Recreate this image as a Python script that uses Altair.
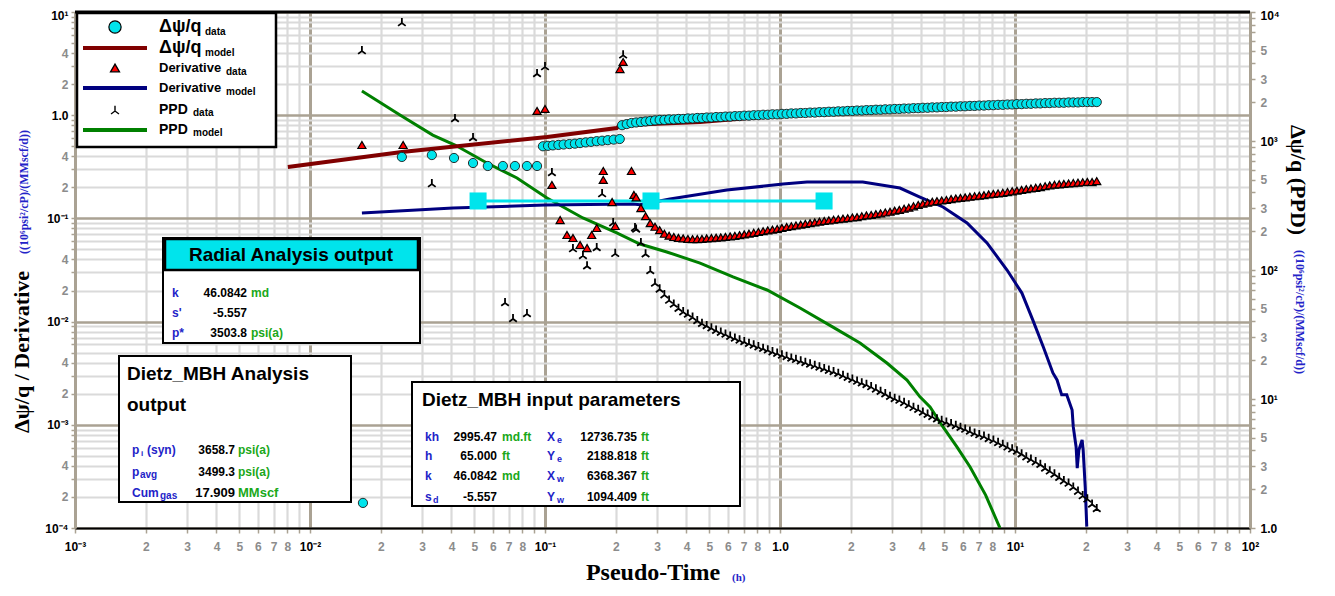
import altair as alt
import pandas as pd

# ---------------- data ----------------
# early, scattered part of each data series (pseudo-time h, value)
psi_early = [
    (0.0168, 0.000175), (0.0246, 0.394), (0.0330, 0.411), (0.0410, 0.385), (0.0494, 0.344),
    (0.0571, 0.322), (0.0662, 0.322), (0.0745, 0.322), (0.0838, 0.322), (0.0925, 0.322),
    (0.098, 0.50), (0.103, 0.505), (0.108, 0.51), (0.114, 0.515), (0.120, 0.52), (0.127, 0.525),
    (0.134, 0.53), (0.141, 0.537), (0.149, 0.545), (0.157, 0.552), (0.166, 0.56), (0.175, 0.566),
    (0.185, 0.573), (0.196, 0.58), (0.208, 0.588),
]
deriv_early = [
    (0.01663, 0.514), (0.0249, 0.514), (0.0925, 1.10), (0.1, 1.15), (0.107, 0.211),
    (0.116, 0.0964), (0.124, 0.069), (0.1315, 0.0646), (0.141, 0.0552), (0.151, 0.0516),
    (0.158, 0.069), (0.166, 0.0807), (0.177, 0.288), (0.177, 0.236), (0.193, 0.144),
    (0.199, 0.0844), (0.2085, 2.80), (0.215, 3.28), (0.239, 0.169),
]
ppd_early = [
    (0.01663, 5070), (0.0246, 8360), (0.033, 472), (0.0414, 1510), (0.0494, 1075),
    (0.0676, 56.5), (0.0731, 42.5), (0.0838, 46.4), (0.0925, 3370), (0.1, 3810),
    (0.107, 575), (0.1315, 148), (0.145, 131), (0.151, 109), (0.166, 151), (0.175, 395),
    (0.195, 235), (0.199, 136), (0.215, 4700), (0.2415, 215),
]

# dense part: common pseudo-times of the three data series
t_dense = [
    0.2128, 0.2228, 0.2333, 0.2443, 0.2559, 0.2679, 0.2805, 0.2938, 0.3076, 0.3221,
    0.3373, 0.3532, 0.3698, 0.3873, 0.4055, 0.4246, 0.4446, 0.4656, 0.4875, 0.5105,
    0.5346, 0.5598, 0.5861, 0.6138, 0.6427, 0.6730, 0.7047, 0.7379, 0.7727, 0.8091,
    0.8472, 0.8872, 0.9290, 0.9727, 1.019, 1.067, 1.117, 1.169, 1.225, 1.282,
    1.343, 1.406, 1.472, 1.542, 1.614, 1.690, 1.770, 1.854, 1.941, 2.032,
    2.128, 2.228, 2.333, 2.443, 2.559, 2.679, 2.805, 2.938, 3.076, 3.221,
    3.373, 3.532, 3.698, 3.873, 4.055, 4.246, 4.446, 4.656, 4.875, 5.105,
    5.346, 5.598, 5.861, 6.138, 6.427, 6.730, 7.047, 7.379, 7.727, 8.091,
    8.472, 8.872, 9.290, 9.727, 10.19, 10.67, 11.17, 11.69, 12.25, 12.82,
    13.43, 14.06, 14.72, 15.42, 16.14, 16.90, 17.70, 18.54, 19.41, 20.32,
    21.28, 22.28,
]
psi_dense = [
    0.80, 0.82, 0.84, 0.85, 0.86, 0.87, 0.88, 0.89, 0.90, 0.90,
    0.91, 0.91, 0.92, 0.92, 0.93, 0.93, 0.94, 0.94, 0.95, 0.95,
    0.96, 0.96, 0.97, 0.97, 0.98, 0.98, 0.99, 0.99, 1.00, 1.00,
    1.01, 1.01, 1.02, 1.02, 1.03, 1.03, 1.04, 1.04, 1.05, 1.05,
    1.06, 1.06, 1.07, 1.07, 1.08, 1.08, 1.09, 1.09, 1.10, 1.10,
    1.11, 1.11, 1.12, 1.12, 1.13, 1.13, 1.14, 1.14, 1.15, 1.15,
    1.16, 1.16, 1.17, 1.17, 1.18, 1.18, 1.19, 1.19, 1.20, 1.20,
    1.21, 1.21, 1.22, 1.22, 1.23, 1.23, 1.24, 1.24, 1.25, 1.25,
    1.26, 1.26, 1.27, 1.27, 1.28, 1.28, 1.29, 1.29, 1.30, 1.30,
    1.31, 1.31, 1.32, 1.32, 1.32, 1.33, 1.33, 1.33, 1.34, 1.34,
    1.34, 1.34,
]
deriv_dense = [
    None, None, 0.288, 0.160, 0.126, 0.105, 0.090, 0.083, 0.077, 0.071,
    0.068, 0.066, 0.0648, 0.0640, 0.0632, 0.0630, 0.0631, 0.0633, 0.0640, 0.0645,
    0.0650, 0.0655, 0.0662, 0.0670, 0.0678, 0.0688, 0.0700, 0.0712, 0.0725, 0.0738,
    0.0752, 0.0765, 0.0778, 0.0790, 0.0810, 0.0825, 0.0840, 0.0855, 0.0870, 0.0885,
    0.0900, 0.0915, 0.0930, 0.0945, 0.0958, 0.0970, 0.0982, 0.0995, 0.1005, 0.102,
    0.103, 0.105, 0.107, 0.108, 0.110, 0.112, 0.114, 0.116, 0.119, 0.121,
    0.124, 0.127, 0.131, 0.135, 0.139, 0.142, 0.145, 0.147, 0.149, 0.151,
    0.154, 0.156, 0.158, 0.160, 0.162, 0.164, 0.166, 0.168, 0.171, 0.173,
    0.175, 0.177, 0.180, 0.183, 0.186, 0.189, 0.192, 0.195, 0.198, 0.201,
    0.205, 0.209, 0.212, 0.214, 0.216, 0.218, 0.220, 0.222, 0.224, 0.226,
    0.225, 0.230,
]
ppd_dense = [
    None, None, None, 210, 165, 135, 100, 80, 72, 65,
    59, 55, 51, 48, 46, 43.5, 41, 39, 37.5, 36,
    34.5, 33.3, 32.2, 31.0, 30.0, 29.0, 28.2, 27.3, 26.5, 25.7,
    25.0, 24.3, 23.5, 22.9, 22.2, 21.6, 21.0, 20.5, 20.0, 19.4,
    18.9, 18.4, 17.9, 17.4, 16.9, 16.5, 16.0, 15.4, 14.9, 14.4,
    13.9, 13.5, 13.1, 12.6, 12.1, 11.6, 11.1, 10.6, 10.2, 9.9,
    9.5, 9.1, 8.7, 8.4, 8.0, 7.7, 7.4, 7.1, 6.9, 6.7,
    6.5, 6.3, 6.1, 5.9, 5.7, 5.5, 5.35, 5.2, 5.0, 4.85,
    4.65, 4.5, 4.3, 4.15, 4.0, 3.8, 3.6, 3.45, 3.3, 3.15,
    2.95, 2.8, 2.65, 2.5, 2.35, 2.25, 2.1, 1.95, 1.8, 1.7,
    1.55, 1.43,
]

psi_model = [
    (0.00805, 0.315), (0.0246, 0.44), (0.102, 0.615), (0.202, 0.75), (0.2085, 0.80),
    (0.457, 0.86), (1.22, 1.03), (3.0, 1.12), (8.63, 1.24), (22.3, 1.37),
]
deriv_model = [
    (0.01663, 0.1127), (0.0406, 0.126), (0.1, 0.135), (0.2366, 0.138), (0.2535, 0.136),
    (0.34, 0.154), (0.594, 0.188), (1.03, 0.215), (1.303, 0.225), (2.25, 0.225),
    (3.24, 0.197), (3.94, 0.161), (4.94, 0.129), (6.25, 0.0902), (7.60, 0.0578),
    (9.25, 0.0316), (10.7, 0.0189), (11.9, 0.0104), (13.2, 0.00568), (14.5, 0.00318),
    (15.1, 0.00272), (15.8, 0.00195), (16.6, 0.00195), (17.5, 0.00139), (17.7, 0.000953),
    (18.2, 0.00061), (18.4, 0.000381), (18.7, 0.00057), (19.3, 0.000713), (19.5, 0.00057),
    (19.9, 0.000249), (20.2, 0.000103),
]
ppd_model = [
    (0.01663, 2440), (0.02415, 1590), (0.0333, 1110), (0.0414, 931), (0.0566, 675),
    (0.076, 517), (0.102, 361), (0.145, 253), (0.202, 194), (0.2535, 159), (0.33, 138),
    (0.457, 113), (0.631, 88.3), (0.881, 70.0), (1.217, 50.7), (1.68, 36.1), (2.19, 27.2),
    (2.85, 19.0), (3.47, 14.0), (3.94, 10.4), (4.35, 8.67), (4.94, 6.07), (5.66, 4.25),
    (6.44, 2.97), (7.5, 1.80), (8.63, 1.0),
]
radial_line = [(0.0519, 0.1475), (0.2825, 0.1475), (1.54, 0.1475)]

x_ticks = [m * 10.0 ** e for e in range(-3, 2) for m in range(1, 10)] + [100.0]
yl_ticks = [m * 10.0 ** e for e in range(-4, 1) for m in range(1, 10)] + [10.0]
yr_ticks = [m * 10.0 ** e for e in range(0, 4) for m in range(1, 10)] + [10000.0]


def frame(rows):
    return pd.DataFrame(rows, columns=["t", "v"])


def series(early, dense):
    rows = list(early) + [(t, v) for t, v in zip(t_dense, dense) if v is not None]
    return frame(rows)


# ---------------- layout helpers ----------------
X0, Y0 = 75, 12
W, H = 1175, 516
one = pd.DataFrame({"k": [0]})
SANS = "Liberation Sans"
SERIF = "Liberation Serif"
BLUE = "#2323c8"
GREEN = "#1aa81a"
GRAYBROWN = "#aaa293"


def px(x):
    return x - X0


def py(y):
    return y - Y0


def txt(s, x, y, size=12, color="black", weight="bold", font=SANS, align="left", angle=None):
    kw = dict(text=s, fontSize=size, color=color, fontWeight=weight, font=font,
              align=align, baseline="middle")
    if angle is not None:
        kw["angle"] = angle
    return alt.Chart(one).mark_text(**kw).encode(x=alt.value(px(x)), y=alt.value(py(y)))


def box(x1, y1, x2, y2, fill="white", sw=2):
    return alt.Chart(one).mark_rect(fill=fill, stroke="black", strokeWidth=sw).encode(
        x=alt.value(px(x1)), x2=alt.value(px(x2)), y=alt.value(py(y1)), y2=alt.value(py(y2)))


def hline(x1, x2, y, color, sw=3):
    return alt.Chart(one).mark_rule(color=color, strokeWidth=sw).encode(
        x=alt.value(px(x1)), x2=alt.value(px(x2)), y=alt.value(py(y)))


def sym(x, y, **kw):
    return alt.Chart(one).mark_point(**kw).encode(x=alt.value(px(x)), y=alt.value(py(y)))


# ---------------- axes ----------------
L = "(log(datum.value)/LN10)"
ISDEC = f"abs({L}-round({L}))<0.01"
E = f"round({L})"
MANT = f"round(datum.value/pow(10,floor({L}+0.01)))"


def dec_expr(mapping):
    parts = [f"({E}=={e})?'{s}'" for e, s in mapping.items()]
    return "(" + ":".join(parts) + ":'')"


def cond(a, b, test=ISDEC):
    return {"condition": {"test": test, "value": a}, "value": b}


x_label = (f"{ISDEC}?" + dec_expr({-3: "10⁻³", -2: "10⁻²", -1: "10⁻¹", 0: "1.0", 1: "10¹", 2: "10²"})
           + f":(({MANT})<=8?''+({MANT}):'')")
yl_label = (f"{ISDEC}?" + dec_expr({-4: "10⁻⁴", -3: "10⁻³", -2: "10⁻²", -1: "10⁻¹", 0: "1.0", 1: "10¹"})
            + f":((({MANT})==2||({MANT})==4)?''+({MANT}):'')")
yr_label = (f"{ISDEC}?" + dec_expr({0: "1.0", 1: "10¹", 2: "10²", 3: "10³", 4: "10⁴"})
            + f":((({MANT})==2||({MANT})==3||({MANT})==5)?''+({MANT}):'')")

x_axis = alt.Axis(values=x_ticks, labelExpr=x_label, labelColor=cond("black", "#8c8c8c"),
                  labelFont=SANS, labelFontSize=12, labelFontWeight="bold", labelPadding=8,
                  labelFlush=False, labelOverlap=False, tickSize=5, tickColor=GRAYBROWN,
                  tickWidth=1.5, domainColor="black", domainWidth=2, grid=True,
                  gridColor=cond(GRAYBROWN, "#dadada"), gridWidth=cond(3, 2.2), title=None)
yl_axis = alt.Axis(values=yl_ticks, orient="left", labelExpr=yl_label,
                   labelColor=cond("black", "#8c8c8c"), labelFont=SANS, labelFontSize=12,
                   labelFontWeight="bold", labelPadding=3, labelFlush=False, labelOverlap=False,
                   labelOffset=cond(3, 0, "datum.value>=9.99"),
                   tickSize=4, tickColor=GRAYBROWN, tickWidth=1.5, domainColor=GRAYBROWN,
                   domainWidth=3, grid=True, gridColor=cond(GRAYBROWN, "#dadada"),
                   gridWidth=cond(2.5, 2), title=None)
yr_axis = alt.Axis(values=yr_ticks, orient="right", labelExpr=yr_label,
                   labelColor=cond("black", "#8c8c8c"), labelFont=SANS, labelFontSize=12,
                   labelFontWeight="bold", labelPadding=5, labelFlush=False, labelOverlap=False,
                   labelOffset=cond(3, 0, "datum.value>=9999"),
                   tickSize=5, tickColor=GRAYBROWN, tickWidth=1.5, domainColor=GRAYBROWN,
                   domainWidth=3, grid=False, title=None)

XE = alt.X("t:Q", scale=alt.Scale(type="log", domain=[1e-3, 1e2]), axis=x_axis)


def YL(axis=None):
    return alt.Y("v:Q", scale=alt.Scale(type="log", domain=[1e-4, 10]), axis=axis)


def YR(axis=None):
    return alt.Y("v:Q", scale=alt.Scale(type="log", domain=[1, 1e4]), axis=axis)


CYAN = "#00e4ec"
PPD_SHAPE = "M0,-1L0,0.25M-0.95,0.95L0,0.25L0.95,0.95"

layers = [
    alt.Chart(frame(ppd_model)).mark_line(color="#008000", strokeWidth=3, clip=True)
    .encode(x=XE, y=YR(yr_axis)),
    alt.Chart(frame(deriv_model)).mark_line(color="#00007f", strokeWidth=3, clip=True)
    .encode(x=XE, y=YL(yl_axis)),
    alt.Chart(frame(psi_model)).mark_line(color="#800000", strokeWidth=4, clip=True)
    .encode(x=XE, y=YL()),
    alt.Chart(frame(radial_line)).mark_line(color=CYAN, strokeWidth=3, clip=True)
    .encode(x=XE, y=YL()),
    alt.Chart(frame(radial_line)).mark_point(shape="square", filled=True, fill=CYAN, opacity=1,
                                             size=290, clip=True).encode(x=XE, y=YL()),
    alt.Chart(series(ppd_early, ppd_dense)).mark_point(
        shape=PPD_SHAPE, filled=False, stroke="black", strokeWidth=1.8, size=65, opacity=1,
        clip=True).encode(x=XE, y=YR()),
    alt.Chart(series(deriv_early, deriv_dense)).mark_point(
        shape="triangle-up", filled=True, fill="#ff0000", stroke="black", strokeWidth=1.2,
        size=65, opacity=1, clip=True).encode(x=XE, y=YL()),
    alt.Chart(series(psi_early, psi_dense)).mark_point(
        shape="circle", filled=True, fill=CYAN, stroke="#1a1a1a", strokeWidth=0.9, size=85,
        opacity=1, clip=True).encode(x=XE, y=YL()),
    hline(X0, X0 + W, Y0, "black", 3),
]

# ---------------- legend ----------------
layers += [
    box(77, 13, 276, 147, sw=2.5),
    sym(115, 27, shape="circle", filled=True, fill=CYAN, stroke="black", strokeWidth=1.2, size=150, opacity=1),
    txt("Δψ/q", 159, 27, size=18), txt("data", 205, 32, size=10),
    hline(83, 147, 48, "#800000", 4),
    txt("Δψ/q", 159, 48, size=18), txt("model", 205, 53, size=10),
    sym(115, 68, shape="triangle-up", filled=True, fill="#ff0000", stroke="black", strokeWidth=1.3, size=80, opacity=1),
    txt("Derivative", 159, 68, size=13), txt("data", 226, 72, size=10),
    hline(83, 147, 88, "#00007f", 4),
    txt("Derivative", 159, 88, size=13), txt("model", 226, 92, size=10),
    sym(115, 110, shape=PPD_SHAPE, filled=False, stroke="black", strokeWidth=1.4, size=70, opacity=1),
    txt("PPD", 159, 110, size=14), txt("data", 193, 113, size=10),
    hline(83, 147, 130, "#008000", 4),
    txt("PPD", 159, 130, size=14), txt("model", 193, 133, size=10),
]

# ---------------- Radial Analysis output box ----------------
layers += [
    box(163, 238, 420, 343),
    box(165, 239, 418, 270, fill=CYAN, sw=2.5),
    txt("Radial Analysis output", 291, 255, size=19, align="center"),
    txt("k", 172, 293, color=BLUE), txt("46.0842", 247, 293, align="right"), txt("md", 251, 293, color=GREEN),
    txt("s'", 172, 313, color=BLUE), txt("-5.557", 247, 313, align="right"),
    txt("p*", 172, 333, color=BLUE), txt("3503.8", 247, 333, align="right"), txt("psi(a)", 251, 333, color=GREEN),
]

# ---------------- Dietz_MBH Analysis output box ----------------
layers += [
    box(119, 356, 351, 502),
    txt("Dietz_MBH Analysis", 127, 374, size=19), txt("output", 127, 405, size=19),
    txt("p", 132, 450, color=BLUE), txt("i", 141, 454, size=8, color=BLUE), txt("(syn)", 147, 450, color=BLUE),
    txt("3658.7", 235, 450, align="right"), txt("psi(a)", 238, 450, color=GREEN),
    txt("p", 132, 472, color=BLUE), txt("avg", 140, 475, size=10, color=BLUE),
    txt("3499.3", 235, 472, align="right"), txt("psi(a)", 238, 472, color=GREEN),
    txt("Cum", 132, 493, color=BLUE), txt("gas", 160, 496, size=10, color=BLUE),
    txt("17.909", 235, 493, size=13, align="right"), txt("MMscf", 238, 493, size=13, color=GREEN),
]

# ---------------- Dietz_MBH input parameters box ----------------
rows_y = [437, 456, 476, 497]
c1_lab = ["kh", "h", "k", "s"]
c1_sub = ["", "", "", "d"]
c1_val = ["2995.47", "65.000", "46.0842", "-5.557"]
c1_unit = ["md.ft", "ft", "md", ""]
c2_lab = ["X", "Y", "X", "Y"]
c2_sub = ["e", "e", "w", "w"]
c2_val = ["12736.735", "2188.818", "6368.367", "1094.409"]
layers += [box(412, 382, 740, 506), txt("Dietz_MBH input parameters", 422, 400, size=19)]
for i, yy in enumerate(rows_y):
    layers.append(txt(c1_lab[i], 425, yy, color=BLUE))
    if c1_sub[i]:
        layers.append(txt(c1_sub[i], 433, yy + 3, size=9, color=BLUE))
    layers.append(txt(c1_val[i], 497, yy, align="right"))
    if c1_unit[i]:
        layers.append(txt(c1_unit[i], 502, yy, color=GREEN))
    layers.append(txt(c2_lab[i], 547, yy, color=BLUE))
    layers.append(txt(c2_sub[i], 557, yy + 3, size=9, color=BLUE))
    layers.append(txt(c2_val[i], 637, yy, align="right"))
    layers.append(txt("ft", 641, yy, color=GREEN))

# ---------------- axis titles ----------------
layers += [
    txt("Δψ/q / Derivative", 22, 352, size=22, font=SERIF, angle=270, align="center"),
    txt("((10⁶psi²/cP)/(MMscf/d))", 24, 192, size=12, font=SERIF, color=BLUE, angle=270, align="center"),
    txt("Δψ/q (PPD)", 1298, 180, size=22, font=SERIF, angle=90, align="center"),
    txt("((10⁶psi²/cP)/(MMscf/d))", 1300, 312, size=12, font=SERIF, color=BLUE, angle=90, align="center"),
    txt("Pseudo-Time", 653, 573, size=24, font=SERIF, align="center"),
    txt("(h)", 732, 578, size=11, font=SERIF, color=BLUE),
]

chart = (
    alt.layer(*layers)
    .resolve_scale(y="independent")
    .properties(width=W, height=H, autosize=alt.AutoSizeParams(type="none"),
                padding={"left": X0 - 8, "top": Y0 - 8, "right": 1335 - 8 - (X0 + W) - 10,
                         "bottom": 596 - 8 - (Y0 + H) - 1})
    .configure_view(stroke=None)
)

chart.save("out.html", embed_options={"renderer": "svg", "actions": False})
